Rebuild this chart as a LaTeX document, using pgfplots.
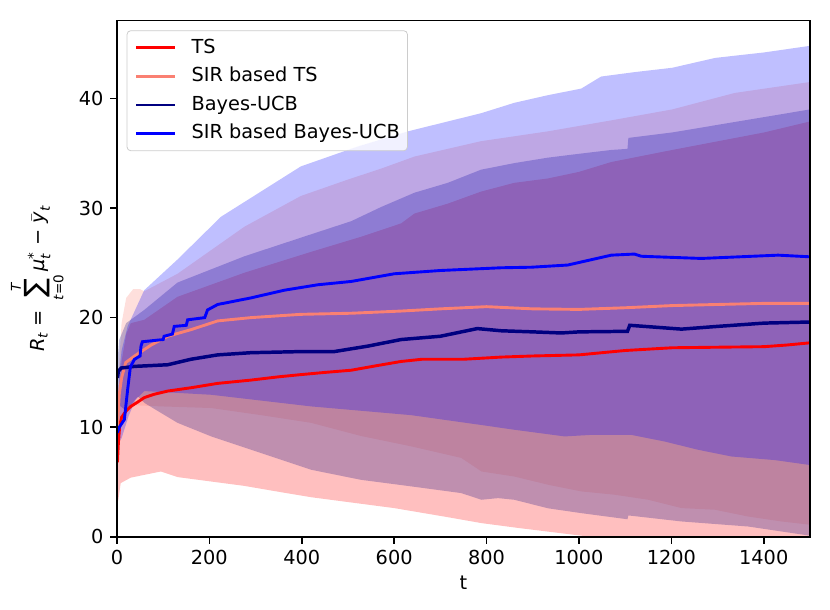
\documentclass[border=0pt]{standalone}
\usepackage{fontspec}
\setmainfont{DejaVu Sans}
\usepackage{pgfplots}
\pgfplotsset{compat=1.18}
\usepgfplotslibrary{fillbetween}
\definecolor{salmon}{RGB}{250,128,114}
\definecolor{navyblue}{RGB}{0,0,128}

\pgfplotstableread{
t y
1 6.8
3 8.5
6 10.2
10 10.9
20 11.5
30 11.9
45 12.3
59 12.7
80 13.0
110 13.3
160 13.6
218 14.0
290 14.3
350 14.6
398 14.8
450 15.0
507 15.2
560 15.6
615 16.0
660 16.2
750 16.2
832 16.4
900 16.5
1000 16.6
1100 17.0
1202 17.25
1300 17.3
1401 17.35
1450 17.5
1500 17.7
}\tsm
\pgfplotstableread{
t y
1 8
5 13
10 16
20 18.5
30 19.5
59 19.8
131 21.9
276 24.1
420 26.0
530 27.4
615 28.6
644 29.5
716 30.4
788 31.5
860 32.3
933 32.7
1000 33.3
1070 34.2
1202 35.3
1401 36.9
1500 37.9
}\tsu
\pgfplotstableread{
t y
1 3.0
3 3.4
8 4.9
30 5.4
59 5.65
95 5.96
131 5.45
203 5.05
275 4.65
347 4.13
419 3.62
491 3.22
600 2.62
708 1.85
789 1.25
870 0.8
990 0.18
1200 -0.9
1500 -2.5
}\tsl
\pgfplotstableread{
t y
1 10
5 13
10 14.5
19 15.9
38 16.5
74 17.5
110 18.3
160 18.9
218 19.7
290 20.0
398 20.3
507 20.4
615 20.6
700 20.8
800 21.0
900 20.8
1000 20.75
1100 20.9
1202 21.1
1300 21.2
1401 21.3
1500 21.3
}\stsm
\pgfplotstableread{
t y
1 11
5 16
10 19.5
20 21.8
35 22.6
50 22.6
59 22.4
131 24.0
276 28.3
398 31.1
500 32.6
572 33.6
644 34.7
788 36.1
933 37.0
1070 38.0
1202 39.0
1337 40.5
1500 41.5
}\stsu
\pgfplotstableread{
t y
1 9.5
10 11
40 12
95 11.9
204 11.75
312 11.1
420 10.4
528 9.2
637 8.25
745 7.2
789 5.96
860 5.5
933 4.75
1005 4.14
1077 3.84
1150 3.38
1222 2.62
1294 2.47
1366 1.85
1438 1.4
1500 1.1
}\stsl
\pgfplotstableread{
t y
1 14.5
3 15.1
9 15.4
38 15.55
110 15.7
160 16.2
218 16.6
290 16.8
398 16.9
470 16.9
543 17.4
615 18.0
700 18.3
780 19.0
832 18.8
900 18.7
962 18.6
1000 18.7
1105 18.75
1110 19.3
1222 18.95
1300 19.2
1401 19.5
1500 19.6
}\bum
\pgfplotstableread{
t y
1 16
5 18
20 19.5
59 20.7
131 23.2
276 25.6
420 27.6
507 28.8
572 30.1
644 31.4
716 32.3
788 33.5
860 34.1
933 34.6
1000 34.95
1070 35.3
1105 35.4
1107 36.4
1202 36.9
1401 38.3
1500 39.0
}\buu
\pgfplotstableread{
t y
1 13.5
5 12
20 11.5
45 12.8
60 12.2
131 10.4
204 9.16
312 7.64
420 6.12
528 5.2
637 4.6
745 3.99
789 3.38
825 3.53
860 3.38
933 2.6
1005 2.16
1105 1.6
1107 1.95
1222 1.4
1366 0.94
1500 0.1
}\bul
\pgfplotstableread{
t y
1 9.5
5 10.0
16 10.7
23 13.4
29 15.5
38 16.2
50 16.5
52 17.4
55 17.8
100 18.0
102 18.3
120 18.5
124 19.2
150 19.3
153 19.8
190 20.0
196 20.7
218 21.2
290 21.8
362 22.5
435 23.0
507 23.3
600 24.0
700 24.3
832 24.55
897 24.6
976 24.8
1070 25.7
1120 25.8
1135 25.6
1265 25.4
1431 25.7
1500 25.55
}\sbum
\pgfplotstableread{
t y
1 11
5 15
10 17
23 19.2
59 22.5
131 25.3
225 29.2
398 33.8
520 35.6
630 37.0
716 37.9
788 38.65
860 39.6
933 40.3
1005 40.9
1048 42.0
1120 42.4
1202 42.8
1295 43.7
1401 44.2
1500 44.8
}\sbuu
\pgfplotstableread{
t y
1 8.5
10 9.0
25 11
40 12.5
59 13.3
204 12.96
420 11.9
637 11.1
789 10.2
860 9.77
969 9.16
1027 9.3
1113 9.3
1185 8.7
1257 7.95
1330 7.33
1424 7.0
1500 6.55
}\sbul

\begin{document}
\begin{tikzpicture}[font=\fontsize{10}{12}\selectfont]
\begin{axis}[
  at={(0pt,0pt)}, anchor=south west,
  scale only axis, width=359pt, height=267.4pt,
  xmin=0, xmax=1500, ymin=0, ymax=47.1,
  xtick={0,200,...,1400}, ytick={0,10,20,30,40},
  xtick pos=bottom, ytick pos=left,
  tick align=outside, major tick length=3.5pt,
  tick style={black, line width=0.8pt},
  axis line style={black, line width=0.8pt},
  /pgf/number format/assume math mode=true,
  /pgf/number format/1000 sep={},
  tick label style={font=\fontsize{10}{12}\selectfont},
  xlabel={t},
  ylabel={$\mbox{\itshape R}_{\mbox{\scriptsize\itshape t}}\mbox{ = }\mathop{\mbox{\fontsize{14.5}{14.5}\selectfont ∑}}\limits_{\mbox{\scriptsize\itshape t\/\upshape =0}}^{\mbox{\scriptsize\itshape T}}\mbox{\itshape μ}_{\mbox{\scriptsize\itshape t}}^{\mbox{\scriptsize *}}\mbox{ − }\bar{\mbox{\itshape y}}_{\mbox{\scriptsize\itshape t}}$},
  label style={font=\fontsize{10}{12}\selectfont},
  xlabel style={yshift=1pt},
  axis on top,
  legend style={at={(0.0139,0.9813)}, anchor=north west, draw=black!20,
    rounded corners=2pt, fill=white, fill opacity=0.8, text opacity=1,
    inner xsep=4pt, inner ysep=4pt, row sep=5pt, column sep=8pt,
    nodes={inner sep=0pt, text height=7.6pt, text depth=2.2pt},
    font=\fontsize{10}{12}\selectfont},
  legend cell align=left,
  legend image code/.code={\draw[line width=1.5pt, #1] (0pt,0pt) -- (20pt,0pt);},
]
\addplot[name path=tsu, draw=none, forget plot] table {\tsu};
\addplot[name path=tsl, draw=none, forget plot] table {\tsl};
\addplot[red, fill opacity=0.25, forget plot] fill between[of=tsu and tsl];
\addplot[name path=stsu, draw=none, forget plot] table {\stsu};
\addplot[name path=stsl, draw=none, forget plot] table {\stsl};
\addplot[salmon, fill opacity=0.25, forget plot] fill between[of=stsu and stsl];
\addplot[name path=buu, draw=none, forget plot] table {\buu};
\addplot[name path=bul, draw=none, forget plot] table {\bul};
\addplot[navyblue, fill opacity=0.25, forget plot] fill between[of=buu and bul];
\addplot[name path=sbuu, draw=none, forget plot] table {\sbuu};
\addplot[name path=sbul, draw=none, forget plot] table {\sbul};
\addplot[blue, fill opacity=0.25, forget plot] fill between[of=sbuu and sbul];

\addplot[red, line width=1.5pt] table {\tsm};
\addlegendentry{TS}
\addplot[salmon, line width=1.5pt] table {\stsm};
\addlegendentry{SIR based TS}
\addplot[navyblue, line width=1.8pt] table {\bum};
\addlegendentry{Bayes-UCB}
\addplot[blue, line width=1.5pt] table {\sbum};
\addlegendentry{SIR based Bayes-UCB}
\end{axis}
\pgfresetboundingbox
\path[use as bounding box] (-60.6pt,-37.8pt) rectangle (369.4pt,278.1pt);
\end{tikzpicture}
\end{document}
